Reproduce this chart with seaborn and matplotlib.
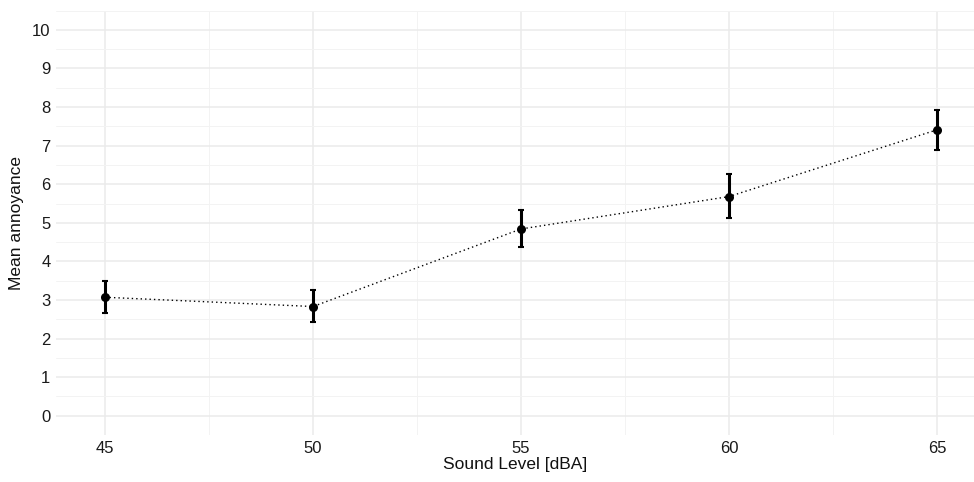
import numpy as np
import pandas as pd
import matplotlib
matplotlib.use('Agg')
import matplotlib.pyplot as plt
import seaborn as sns

sound_level = [45, 50, 55, 60, 65]
mean_annoyance = [3.07, 2.83, 4.84, 5.68, 7.41]
ci_low = [2.66, 2.42, 4.36, 5.12, 6.89]
ci_high = [3.49, 3.26, 5.33, 6.26, 7.93]

df = pd.DataFrame({'Sound Level [dBA]': sound_level,
                   'Mean annoyance': mean_annoyance})

sns.set_theme(style='whitegrid')
plt.rcParams['font.family'] = ['Liberation Sans', 'DejaVu Sans']

fig = plt.figure(figsize=(9.74, 4.82), dpi=100)
ax = fig.add_axes([0.0575, 0.0975, 0.9425, 0.8805])

yerr = [np.array(mean_annoyance) - np.array(ci_low),
        np.array(ci_high) - np.array(mean_annoyance)]
ax.errorbar(sound_level, mean_annoyance, yerr=yerr, fmt='none',
            ecolor='black', elinewidth=2.2, capsize=2.5, capthick=1.5, zorder=3)
sns.lineplot(data=df, x='Sound Level [dBA]', y='Mean annoyance', ax=ax,
             color='black', linestyle=(0, (1, 2.2)), linewidth=1.0,
             marker='o', markersize=6.5, markeredgewidth=0, zorder=4)

ax.set_xlim(43.82, 65.89)
ax.set_ylim(-0.5, 10.5)
ax.set_xticks([45, 50, 55, 60, 65])
ax.set_xticks([47.5, 52.5, 57.5, 62.5], minor=True)
ax.set_yticks(range(0, 11))
ax.set_yticks(np.arange(-0.5, 10.6, 1.0), minor=True)
ax.grid(which='major', color='#ebebeb', linewidth=1.1)
ax.grid(which='minor', color='#f3f3f3', linewidth=0.7)
for s in ax.spines.values():
    s.set_visible(False)
ax.tick_params(which='both', length=0, labelsize=12, labelcolor='#1a1a1a', pad=4)
ax.set_xlabel('Sound Level [dBA]', fontsize=12.5, labelpad=1, color='#111111')
ax.set_ylabel('Mean annoyance', fontsize=12.5, labelpad=6, color='#111111')

fig.savefig('out.png', dpi=100)
